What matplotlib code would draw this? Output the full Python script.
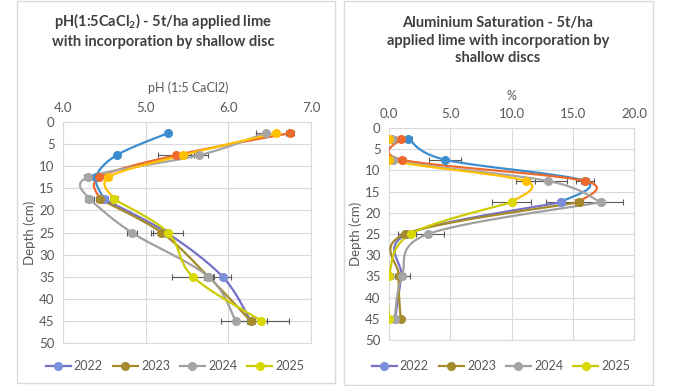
import numpy as np
import matplotlib
matplotlib.use("Agg")
import matplotlib.pyplot as plt
from matplotlib.lines import Line2D
from matplotlib.patches import Rectangle

FONT = "Lato"
plt.rcParams["font.family"] = [FONT, "DejaVu Sans"]
plt.rcParams["mathtext.fontset"] = "custom"
plt.rcParams["mathtext.rm"] = FONT
plt.rcParams["mathtext.bf"] = FONT + ":bold"

# ---- data ----
years = ["2022", "2023", "2024", "2025"]
depths = [2.5, 7.5, 12.5, 17.5, 25, 35, 45]

ph_2022 = [5.27, 4.65, 4.40, 4.50, 5.25, 5.93, 6.27]
ph_2023 = [6.75, 5.37, 4.44, 4.45, 5.19, 5.76, 6.27]
ph_2024 = [6.45, 5.65, 4.30, 4.32, 4.83, 5.76, 6.09]
ph_2025 = [6.58, 5.45, 4.55, 4.62, 5.27, 5.57, 6.40]

ph_err_2022 = [0.00, 0.00, 0.03, 0.05, 0.05, 0.10, 0.05]
ph_err_2023 = [0.05, 0.22, 0.03, 0.05, 0.12, 0.05, 0.20]
ph_err_2024 = [0.12, 0.10, 0.05, 0.05, 0.06, 0.05, 0.18]
ph_err_2025 = [0.03, 0.05, 0.03, 0.05, 0.18, 0.25, 0.33]

al_2022 = [1.55, 4.6, 16.0, 14.0, 1.5, 1.0, 0.5]
al_2023 = [0.95, 1.1, 16.0, 15.5, 1.34, 0.8, 0.95]
al_2024 = [0.27, 0.3, 13.0, 17.3, 3.2, 1.05, 0.46]
al_2025 = [0.0, 0.0, 11.15, 10.0, 1.77, 0.0, 0.0]

al_err_2022 = [0.3, 1.3, 0.3, 1.2, 0.3, 0.3, 0.2]
al_err_2023 = [0.2, 0.2, 0.7, 0.3, 0.6, 0.3, 0.2]
al_err_2024 = [0.3, 0.3, 1.5, 1.8, 1.3, 0.7, 0.2]
al_err_2025 = [0.1, 0.1, 0.8, 1.6, 0.4, 0.2, 0.1]

ph_vals = [ph_2022, ph_2023, ph_2024, ph_2025]
ph_errs = [ph_err_2022, ph_err_2023, ph_err_2024, ph_err_2025]
al_vals = [al_2022, al_2023, al_2024, al_2025]
al_errs = [al_err_2022, al_err_2023, al_err_2024, al_err_2025]

# topsoil (0-20) and subsoil series are separate in the source sheet
TOP = slice(0, 4)
SUB = slice(3, 7)
top_colors = ["#3C8DD0", "#EE6A2C", "#A5A5A5", "#FFC000"]
sub_lines = ["#7570C8", "#A68A2A", "#A0A0A0", "#CCCC00"]
sub_marks = ["#7B8FDA", "#A58B2C", "#A5A5A5", "#D9D900"]

GRID = "#D9D9D9"
TXT = "#595959"
W, H = 687, 386


def smooth(xs, ys, sx, sy, n=30):
    """Excel-style smoothed line (bezier through points), done in pixel space."""
    P = np.column_stack([np.asarray(xs, float) * sx, np.asarray(ys, float) * sy])
    P = np.vstack([P[0], P, P[-1]])
    t = np.linspace(0, 1, n)[:, None]
    segs = []
    for i in range(1, len(P) - 2):
        p0, p1, p2, p3 = P[i - 1], P[i], P[i + 1], P[i + 2]
        c1 = p1 + (p2 - p0) / 6
        c2 = p2 - (p3 - p1) / 6
        segs.append((1 - t) ** 3 * p1 + 3 * (1 - t) ** 2 * t * c1
                    + 3 * (1 - t) * t ** 2 * c2 + t ** 3 * p2)
    out = np.vstack(segs)
    return out[:, 0] / sx, out[:, 1] / sy


def panel(box, xlim, xstep, vals, errs, xlabel, xlabel_xy, depth_x):
    x0, y0, x1, y1 = box
    ax = fig.add_axes([x0 / W, 1 - y1 / H, (x1 - x0) / W, (y1 - y0) / H])
    sx = (x1 - x0) / (xlim[1] - xlim[0])
    sy = (y1 - y0) / 50.0
    d = np.array(depths)
    for k in range(4):
        v = np.array(vals[k])
        e = np.array(errs[k])
        ax.errorbar(v, d, xerr=e, fmt="none", ecolor=TXT, elinewidth=0.8,
                    capsize=2.5, capthick=0.8, zorder=2)
    for part, lc, mc in [(TOP, top_colors, top_colors), (SUB, sub_lines, sub_marks)]:
        for k in range(4):
            v = np.array(vals[k])[part]
            dd = d[part]
            xs, ys = smooth(v, dd, sx, sy)
            ax.plot(xs, ys, color=lc[k], lw=1.6, zorder=3)
            ax.plot(v, dd, "o", ms=5.5, color=mc[k], zorder=4)
    ax.set_xlim(*xlim)
    ax.set_ylim(50, 0)
    ax.set_xticks(np.arange(xlim[0], xlim[1] + 0.01, xstep))
    ax.set_xticklabels([f"{t:.1f}" for t in ax.get_xticks()])
    ax.set_yticks(range(0, 51, 5))
    ax.xaxis.tick_top()
    ax.tick_params(length=0, colors=TXT, labelsize=9.5, pad=6)
    ax.grid(True, color=GRID, lw=0.8)
    ax.set_axisbelow(True)
    for s in ax.spines.values():
        s.set_color(GRID)
        s.set_linewidth(0.8)
    fig.text(xlabel_xy[0] / W, 1 - xlabel_xy[1] / H, xlabel, ha="center", va="center",
             fontsize=9, color=TXT)
    fig.text(depth_x / W, 1 - ((y0 + y1) / 2) / H, "Depth (cm)", rotation=90,
             ha="center", va="center", fontsize=9.5, color=TXT)
    return ax


fig = plt.figure(figsize=(W / 100, H / 100), dpi=100)

# panel frames
for (a, b, c, e) in [(17, 1, 335, 383), (344, 1, 653, 385)]:
    fig.patches.append(Rectangle((a / W, 1 - e / H), (c - a) / W, (e - b) / H,
                                 transform=fig.transFigure, fill=False,
                                 edgecolor=GRID, lw=1))

panel((63, 122, 311, 343), (4.0, 7.0), 1.0, ph_vals, ph_errs,
      "pH (1:5 CaCl2)", (188, 88), 30)
panel((389, 128, 634, 340), (0.0, 20.0), 5.0, al_vals, al_errs,
      "%", (511, 96), 356)

fig.text(163 / W, 1 - 30 / H,
         "pH(1:5CaCl$_\\mathbf{2}$) - 5t/ha applied lime\nwith incorporation by shallow disc",
         ha="center", va="center", fontsize=10.5, fontweight="bold",
         color="#404040", linespacing=1.35)
fig.text(498 / W, 1 - 40.5 / H,
         "Aluminium Saturation - 5t/ha\napplied lime with incorporation by\nshallow discs",
         ha="center", va="center", fontsize=10.5, fontweight="bold",
         color="#404040", linespacing=1.35)

handles = [Line2D([], [], color=sub_lines[k], lw=1.6, marker="o", ms=5.5,
                  markerfacecolor=sub_marks[k], markeredgecolor=sub_marks[k])
           for k in range(4)]
for cx in (175, 501):
    fig.legend(handles, years, loc="center", bbox_to_anchor=(cx / W, 1 - 366 / H),
               ncol=4, frameon=False, fontsize=9, labelcolor=TXT,
               handlelength=2.0, handletextpad=0.25, columnspacing=0.8)

fig.savefig("out.png", dpi=100)
